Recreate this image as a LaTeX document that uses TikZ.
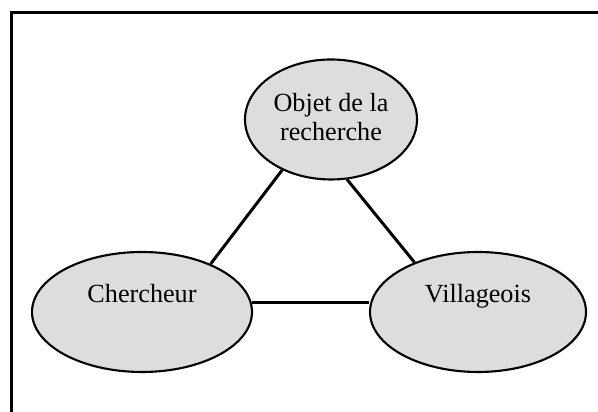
\documentclass[tikz,border=0pt]{standalone}
\usepackage{fontspec}
\setmainfont{Liberation Serif}
\usetikzlibrary{shapes.geometric}
\definecolor{ovalgray}{RGB}{221,221,221}

\begin{document}
\begin{tikzpicture}[
  oval/.style={ellipse, draw, line width=1.2pt, fill=ovalgray,
    minimum height=2.4cm, inner sep=0pt},
  tie/.style={line width=1.7pt},
  font=\fontsize{14.9}{17}\selectfont]
\useasboundingbox (0,0) rectangle (11.96,8.24);
\clip (0,0) rectangle (11.96,8.24);
% frame
\draw[line width=1.4pt] (0.23,-1) rectangle (13,7.99);
% the three ovals
\node[oval, minimum width=3.44cm] (objet) at (6.62,5.85) {};
\node[oval, minimum width=4.4cm] (chercheur) at (2.84,2.0) {};
\node[oval, minimum width=4.32cm] (villageois) at (9.56,2.0) {};
\node[align=center] (objettext) at (6.62,5.9) {Objet de la\\recherche};
\node[anchor=base] (cherchtext) at (2.84,2.18) {Chercheur};
\node[anchor=base] (villtext) at (9.56,2.18) {Villageois};
% links
\draw[tie] (objet.226) -- (chercheur.35);
\draw[tie] (objet.285) -- (villageois.142);
\draw[tie] (chercheur.5.7) -- (chercheur.5.7 -| villageois.west);
\end{tikzpicture}
\end{document}
